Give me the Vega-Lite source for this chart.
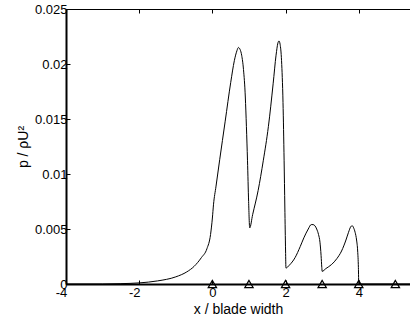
{
  "$schema": "https://vega.github.io/schema/vega-lite/v6.json",
  "width": 344,
  "height": 275,
  "autosize": {"type": "none"},
  "padding": {"left": 66, "top": 9, "right": 0, "bottom": 38},
  "background": "white",
  "config": {
    "view": {"stroke": null},
    "font": "Liberation Sans",
    "axis": {
      "grid": false,
      "labelFont": "Liberation Sans",
      "labelFontSize": 13,
      "labelColor": "black",
      "titleFont": "Liberation Sans",
      "titleFontSize": 14,
      "titleFontWeight": "normal",
      "titleColor": "black",
      "domainColor": "black",
      "tickColor": "black",
      "tickWidth": 1
    }
  },
  "layer": [
    {
      "data": {
        "values": [
          {"x": -4, "y": 0}, {"x": -3, "y": 0}, {"x": -2.5, "y": 0.00003},
          {"x": -2, "y": 0.0001}, {"x": -1.5, "y": 0.00028}, {"x": -1.0, "y": 0.00065},
          {"x": -0.7, "y": 0.0011}, {"x": -0.5, "y": 0.0016}, {"x": -0.3, "y": 0.0024},
          {"x": -0.15, "y": 0.0032}, {"x": -0.05, "y": 0.0045}, {"x": 0.0, "y": 0.006},
          {"x": 0.03, "y": 0.0072}, {"x": 0.1, "y": 0.0089}, {"x": 0.2, "y": 0.0113},
          {"x": 0.35, "y": 0.0148}, {"x": 0.5, "y": 0.0183}, {"x": 0.6, "y": 0.0203},
          {"x": 0.67, "y": 0.0212}, {"x": 0.71, "y": 0.0215}, {"x": 0.76, "y": 0.0213},
          {"x": 0.8, "y": 0.0208}, {"x": 0.85, "y": 0.0195}, {"x": 0.9, "y": 0.017},
          {"x": 0.93, "y": 0.0143}, {"x": 0.96, "y": 0.0112}, {"x": 0.99, "y": 0.0075},
          {"x": 1.02, "y": 0.0051}, {"x": 1.1, "y": 0.0063}, {"x": 1.25, "y": 0.0085},
          {"x": 1.39, "y": 0.0112}, {"x": 1.53, "y": 0.0143}, {"x": 1.66, "y": 0.0182},
          {"x": 1.74, "y": 0.0208}, {"x": 1.79, "y": 0.0219}, {"x": 1.82, "y": 0.0221},
          {"x": 1.85, "y": 0.0218}, {"x": 1.89, "y": 0.0203}, {"x": 1.93, "y": 0.0165},
          {"x": 1.96, "y": 0.0112}, {"x": 1.98, "y": 0.007}, {"x": 2.0, "y": 0.003},
          {"x": 2.01, "y": 0.00145}, {"x": 2.1, "y": 0.0017}, {"x": 2.26, "y": 0.0024},
          {"x": 2.4, "y": 0.0034}, {"x": 2.5, "y": 0.0042}, {"x": 2.62, "y": 0.005},
          {"x": 2.7, "y": 0.0054}, {"x": 2.75, "y": 0.0054}, {"x": 2.8, "y": 0.0053},
          {"x": 2.85, "y": 0.005}, {"x": 2.9, "y": 0.0045}, {"x": 2.94, "y": 0.0038},
          {"x": 2.97, "y": 0.0026}, {"x": 2.99, "y": 0.0015}, {"x": 3.0, "y": 0.00115},
          {"x": 3.1, "y": 0.0014}, {"x": 3.26, "y": 0.00178}, {"x": 3.4, "y": 0.0023},
          {"x": 3.53, "y": 0.003}, {"x": 3.65, "y": 0.004}, {"x": 3.72, "y": 0.0047},
          {"x": 3.78, "y": 0.0052}, {"x": 3.82, "y": 0.0053}, {"x": 3.86, "y": 0.0051},
          {"x": 3.9, "y": 0.0047}, {"x": 3.94, "y": 0.004}, {"x": 3.97, "y": 0.003},
          {"x": 3.99, "y": 0.0015}, {"x": 4.0, "y": 0}, {"x": 5.4, "y": 0}
        ]
      },
      "mark": {"type": "line", "color": "black", "strokeWidth": 1, "interpolate": "monotone", "clip": true},
      "encoding": {
        "x": {
          "field": "x", "type": "quantitative",
          "scale": {"domain": [-4, 5.4], "nice": false, "zero": false},
          "axis": {
            "orient": "bottom",
            "values": [-4, -2, 0, 2, 4],
            "labelExpr": "toString(datum.value)",
            "labelOffset": {"condition": {"test": "datum.value < 0", "value": -5}, "value": 0},
            "labelFlush": false,
            "domainWidth": 2,
            "tickSize": -4,
            "labelPadding": 6,
            "title": "x / blade width",
            "titlePadding": 3
          }
        },
        "y": {
          "field": "y", "type": "quantitative",
          "scale": {"domain": [0, 0.025], "nice": false},
          "axis": {
            "values": [0, 0.005, 0.01, 0.015, 0.02, 0.025],
            "format": "~g",
            "domainWidth": 2,
            "tickSize": -4,
            "labelPadding": 3,
            "labelFlush": false,
            "title": "p / ρU²",
            "titlePadding": 4
          }
        }
      }
    },
    {
      "data": {
        "values": [
          {"x": 0, "y": 0}, {"x": 1, "y": 0}, {"x": 2, "y": 0},
          {"x": 3, "y": 0}, {"x": 4, "y": 0}, {"x": 5, "y": 0}
        ]
      },
      "mark": {"type": "point", "shape": "triangle-up", "filled": false, "stroke": "black", "strokeWidth": 1.2, "size": 70, "opacity": 1, "clip": false},
      "encoding": {
        "x": {
          "field": "x", "type": "quantitative",
          "axis": {
            "orient": "top",
            "values": [-4, -2, 0, 2, 4],
            "labels": false,
            "title": null,
            "domainWidth": 1,
            "tickSize": -4
          }
        },
        "y": {
          "field": "y", "type": "quantitative",
          "axis": {
            "values": [0, 0.005, 0.01, 0.015, 0.02, 0.025],
            "format": "~g",
            "domainWidth": 2,
            "tickSize": -4,
            "labelPadding": 3,
            "labelFlush": false,
            "title": "p / ρU²",
            "titlePadding": 4
          }
        }
      }
    }
  ],
  "resolve": {"axis": {"x": "independent"}}
}
